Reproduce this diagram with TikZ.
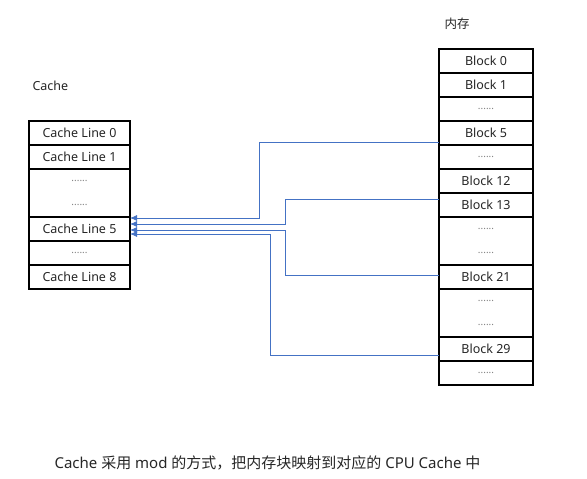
\documentclass[tikz,border=0pt]{standalone}
\usepackage{fontspec}
\setmainfont{Noto Sans}
\newfontfamily\cjk{Noto Sans CJK SC}
\usetikzlibrary{shapes,arrows.meta}
\usetikzlibrary{positioning}
\usepackage{xcolor}
\definecolor{linkblue}{HTML}{4472C4}
\definecolor{textgray}{HTML}{262626}

\begin{document}
\begin{tikzpicture}[x=1pt, y=-1pt, node distance=0pt,
    cell/.style={draw, line width=1.2pt, outer sep=0pt, inner sep=0pt,
      minimum height=24pt, text=textgray, font=\fontsize{12.5}{15}\selectfont},
    cacheline/.style={cell, minimum width=101pt},
    memblock/.style={cell, minimum width=94pt},
    dotrow/.style={text=gray, font=\fontsize{10}{24}\selectfont, align=center},
    tallrow/.style={dotrow, minimum height=48pt},
    link/.style={draw=linkblue, line width=0.8pt, -{Latex[length=7pt, width=6pt]}}]
    \useasboundingbox (0,0) rectangle (587,479);

    % Cache column
    \node[anchor=west, text=textgray, font=\fontsize{12.5}{15}\selectfont] (cachelbl) at (29,86) {Cache};
    \node[cacheline] (c0) at (79.5,133) {Cache Line 0};
    \node[cacheline] (c1) [below=of c0] {Cache Line 1};
    \node[cacheline, tallrow] (c2) [below=of c1] {......\\......};
    \node[cacheline] (c5) [below=of c2] {Cache Line 5};
    \node[cacheline, dotrow] (c6) [below=of c5] {......};
    \node[cacheline] (c8) [below=of c6] {Cache Line 8};

    % Memory column
    \node[text=textgray, font=\cjk\fontsize{12.5}{15}\selectfont] (memlbl) at (457,24) {内存};
    \node[memblock] (m0) at (486,61) {Block 0};
    \node[memblock] (m1) [below=of m0] {Block 1};
    \node[memblock, dotrow] (m2) [below=of m1] {......};
    \node[memblock] (m5) [below=of m2] {Block 5};
    \node[memblock, dotrow] (m6) [below=of m5] {......};
    \node[memblock] (m12) [below=of m6] {Block 12};
    \node[memblock] (m13) [below=of m12] {Block 13};
    \node[memblock, tallrow] (m14) [below=of m13] {......\\......};
    \node[memblock] (m21) [below=of m14] {Block 21};
    \node[memblock, tallrow] (m22) [below=of m21] {......\\......};
    \node[memblock] (m29) [below=of m22] {Block 29};
    \node[memblock, dotrow] (m30) [below=of m29] {......};

    % mod mapping onto Cache Line 5
    \coordinate (s5) at ([yshift=-9pt]m5.west);
    \coordinate (s13) at ([yshift=6pt]m13.west);
    \coordinate (s21) at ([yshift=2pt]m21.west);
    \coordinate (s29) at ([yshift=-6pt]m29.west);
    \coordinate (t5) at ([yshift=11pt]c5.east);
    \coordinate (t13) at ([yshift=5pt]c5.east);
    \coordinate (t21) at ([yshift=-1pt]c5.east);
    \coordinate (t29) at ([yshift=-5pt]c5.east);
    \coordinate (k5) at (259,0);
    \coordinate (k13) at (285,0);
    \coordinate (k29) at (270,0);

    \draw[link] (s5) -- (s5 -| k5) |- (t5);
    \draw[link] (s13) -- (s13 -| k13) |- (t13);
    \draw[link] (s21) -- (s21 -| k13) |- (t21);
    \draw[link] (s29) -- (s29 -| k29) |- (t29);

    \node[anchor=west, text=textgray, font=\fontsize{15}{18}\selectfont] (caption) at (51,463)
      {Cache {\cjk 采用} mod {\cjk 的方式，把内存块映射到对应的} CPU Cache {\cjk 中}};
\end{tikzpicture}
\end{document}
